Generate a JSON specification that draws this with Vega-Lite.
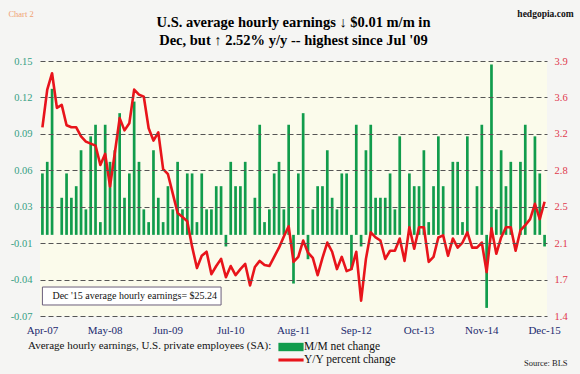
{
  "$schema": "https://vega.github.io/schema/vega-lite/v6.json",
  "width": 507,
  "height": 255,
  "autosize": {"type": "none"},
  "padding": {"left": 40, "top": 61, "right": 33, "bottom": 58},
  "background": "#f5f5f3",
  "config": {"view": {"stroke": null, "fill": "#fbfbeb"}, "font": "Liberation Serif"},
  "title": {
    "text": ["U.S. average hourly earnings ↓ $0.01 m/m in", "Dec, but ↑  2.52% y/y -- highest since Jul '09"],
    "font": "Liberation Serif", "fontSize": 14.5, "fontWeight": "bold", "color": "#000",
    "anchor": "middle", "offset": -40, "lineHeight": 18
  },
  "data": {"values": [
    {"m":"Apr-07","mm":0.053,"yy":3.25},{"m":"May-07","mm":0.063,"yy":3.62},{"m":"Jun-07","mm":0.126,"yy":3.78},
    {"m":"Jul-07","mm":0,"yy":3.44},{"m":"Aug-07","mm":0.032,"yy":3.47},{"m":"Sep-07","mm":0.053,"yy":3.27},
    {"m":"Oct-07","mm":0.032,"yy":3.25},{"m":"Nov-07","mm":0.042,"yy":3.25},{"m":"Dec-07","mm":0.073,"yy":3.16},
    {"m":"Jan-08","mm":0.022,"yy":3.11},{"m":"Feb-08","mm":0.085,"yy":3.09},{"m":"Mar-08","mm":0.095,"yy":3.07},
    {"m":"Apr-08","mm":0.011,"yy":2.88},{"m":"May-08","mm":0.095,"yy":2.99},{"m":"Jun-08","mm":0.063,"yy":2.67},
    {"m":"Jul-08","mm":0.073,"yy":3.0},{"m":"Aug-08","mm":0.105,"yy":3.34},{"m":"Sep-08","mm":0.032,"yy":3.22},
    {"m":"Oct-08","mm":0.053,"yy":3.29},{"m":"Nov-08","mm":0.115,"yy":3.62},{"m":"Dec-08","mm":0.063,"yy":3.57},
    {"m":"Jan-09","mm":0.022,"yy":3.55},{"m":"Feb-09","mm":0.011,"yy":3.24},{"m":"Mar-09","mm":0.073,"yy":3.12},
    {"m":"Apr-09","mm":0.032,"yy":3.2},{"m":"May-09","mm":0.011,"yy":2.84},{"m":"Jun-09","mm":0.042,"yy":2.79},
    {"m":"Jul-09","mm":0.022,"yy":2.6},{"m":"Aug-09","mm":0.063,"yy":2.41},{"m":"Sep-09","mm":0.022,"yy":2.37},
    {"m":"Oct-09","mm":0.053,"yy":2.33},{"m":"Nov-09","mm":0.053,"yy":2.08},{"m":"Dec-09","mm":0.011,"yy":1.87},
    {"m":"Jan-10","mm":0.053,"yy":1.99},{"m":"Feb-10","mm":0.022,"yy":2.03},{"m":"Mar-10","mm":0.022,"yy":1.81},
    {"m":"Apr-10","mm":0.042,"yy":1.89},{"m":"May-10","mm":0.042,"yy":1.96},{"m":"Jun-10","mm":-0.01,"yy":1.78},
    {"m":"Jul-10","mm":0.063,"yy":1.89},{"m":"Aug-10","mm":0.042,"yy":1.8},{"m":"Sep-10","mm":0.042,"yy":1.86},
    {"m":"Oct-10","mm":0.063,"yy":1.91},{"m":"Nov-10","mm":0,"yy":1.7},{"m":"Dec-10","mm":0.032,"yy":1.88},
    {"m":"Jan-11","mm":0.095,"yy":1.94},{"m":"Feb-11","mm":0.011,"yy":1.9},{"m":"Mar-11","mm":0.022,"yy":1.89},
    {"m":"Apr-11","mm":0.053,"yy":1.98},{"m":"May-11","mm":0.063,"yy":2.07},{"m":"Jun-11","mm":0.022,"yy":2.18},
    {"m":"Jul-11","mm":0.095,"yy":2.28},{"m":"Aug-11","mm":-0.042,"yy":1.93},{"m":"Sep-11","mm":0.053,"yy":1.98},
    {"m":"Oct-11","mm":0.105,"yy":2.14},{"m":"Nov-11","mm":-0.021,"yy":2.02},{"m":"Dec-11","mm":0.022,"yy":1.97},
    {"m":"Jan-12","mm":0.042,"yy":1.8},{"m":"Feb-12","mm":0.042,"yy":1.97},{"m":"Mar-12","mm":0.073,"yy":2.12},
    {"m":"Apr-12","mm":0.032,"yy":2.03},{"m":"May-12","mm":0.022,"yy":1.86},{"m":"Jun-12","mm":0.053,"yy":1.98},
    {"m":"Jul-12","mm":0.053,"yy":1.84},{"m":"Aug-12","mm":-0.03,"yy":1.86},{"m":"Sep-12","mm":0.095,"yy":2.03},
    {"m":"Oct-12","mm":-0.01,"yy":1.55},{"m":"Nov-12","mm":0.073,"yy":1.96},{"m":"Dec-12","mm":0.095,"yy":2.22},
    {"m":"Jan-13","mm":0.032,"yy":2.17},{"m":"Feb-13","mm":0.032,"yy":2.14},{"m":"Mar-13","mm":0.032,"yy":1.96},
    {"m":"Apr-13","mm":0.053,"yy":2.04},{"m":"May-13","mm":0.022,"yy":2.04},{"m":"Jun-13","mm":0.085,"yy":2.16},
    {"m":"Jul-13","mm":0,"yy":1.94},{"m":"Aug-13","mm":0.053,"yy":2.27},{"m":"Sep-13","mm":0.042,"yy":2.06},
    {"m":"Oct-13","mm":0.042,"yy":2.27},{"m":"Nov-13","mm":0.073,"yy":2.27},{"m":"Dec-13","mm":0.011,"yy":1.93},
    {"m":"Jan-14","mm":0.042,"yy":1.98},{"m":"Feb-14","mm":0.085,"yy":2.17},{"m":"Mar-14","mm":0.042,"yy":2.19},
    {"m":"Apr-14","mm":0,"yy":1.99},{"m":"May-14","mm":0.063,"yy":2.16},{"m":"Jun-14","mm":0.063,"yy":2.07},
    {"m":"Jul-14","mm":0.011,"yy":2.12},{"m":"Aug-14","mm":0.085,"yy":2.22},{"m":"Sep-14","mm":0,"yy":2.07},
    {"m":"Oct-14","mm":0.042,"yy":2.07},{"m":"Nov-14","mm":0.095,"yy":2.12},{"m":"Dec-14","mm":-0.063,"yy":1.83},
    {"m":"Jan-15","mm":0.147,"yy":2.26},{"m":"Feb-15","mm":0.022,"yy":2.01},{"m":"Mar-15","mm":0.073,"yy":2.17},
    {"m":"Apr-15","mm":0.042,"yy":2.27},{"m":"May-15","mm":0.063,"yy":2.27},{"m":"Jun-15","mm":0,"yy":2.04},
    {"m":"Jul-15","mm":0.063,"yy":2.24},{"m":"Aug-15","mm":0.095,"yy":2.29},{"m":"Sep-15","mm":0,"yy":2.35},
    {"m":"Oct-15","mm":0.085,"yy":2.5},{"m":"Nov-15","mm":0.053,"yy":2.35},{"m":"Dec-15","mm":-0.01,"yy":2.52}
  ]},
  "encoding": {
    "x": {
      "field": "m", "type": "ordinal",
      "scale": {"paddingInner": 0, "paddingOuter": 0, "domain": [
        "Apr-07","May-07","Jun-07","Jul-07","Aug-07","Sep-07","Oct-07","Nov-07","Dec-07",
        "Jan-08","Feb-08","Mar-08","Apr-08","May-08","Jun-08","Jul-08","Aug-08","Sep-08","Oct-08","Nov-08","Dec-08",
        "Jan-09","Feb-09","Mar-09","Apr-09","May-09","Jun-09","Jul-09","Aug-09","Sep-09","Oct-09","Nov-09","Dec-09",
        "Jan-10","Feb-10","Mar-10","Apr-10","May-10","Jun-10","Jul-10","Aug-10","Sep-10","Oct-10","Nov-10","Dec-10",
        "Jan-11","Feb-11","Mar-11","Apr-11","May-11","Jun-11","Jul-11","Aug-11","Sep-11","Oct-11","Nov-11","Dec-11",
        "Jan-12","Feb-12","Mar-12","Apr-12","May-12","Jun-12","Jul-12","Aug-12","Sep-12","Oct-12","Nov-12","Dec-12",
        "Jan-13","Feb-13","Mar-13","Apr-13","May-13","Jun-13","Jul-13","Aug-13","Sep-13","Oct-13","Nov-13","Dec-13",
        "Jan-14","Feb-14","Mar-14","Apr-14","May-14","Jun-14","Jul-14","Aug-14","Sep-14","Oct-14","Nov-14","Dec-14",
        "Jan-15","Feb-15","Mar-15","Apr-15","May-15","Jun-15","Jul-15","Aug-15","Sep-15","Oct-15","Nov-15","Dec-15"
      ]},
      "axis": {
        "values": ["Apr-07","May-08","Jun-09","Jul-10","Aug-11","Sep-12","Oct-13","Nov-14","Dec-15"],
        "title": null, "labelAngle": 0, "labelColor": "#1c2a6e", "labelFont": "Liberation Serif",
        "labelFontSize": 11, "labelPadding": 8, "ticks": false, "domain": false, "grid": false
      }
    }
  },
  "layer": [
    {
      "mark": {"type": "bar", "width": 2.7},
      "encoding": {
        "y": {
          "field": "mm", "type": "quantitative",
          "scale": {"domain": [-0.07, 0.15], "nice": false, "zero": false},
          "axis": {
            "orient": "left", "title": null,
            "values": [-0.07, -0.0385714, -0.0071429, 0.0242857, 0.0557143, 0.0871429, 0.1185714, 0.15],
            "labelExpr": "['-0.07','-0.04','-0.01','0.03','0.06','0.09','0.12','0.15'][round((datum.value + 0.07) / 0.22 * 7)]",
            "labelFont": "Liberation Serif", "labelFontSize": 10.5, "labelColor": "#36a083",
            "labelPadding": 8, "labelOverlap": false, "labelBound": false, "ticks": false, "domain": false, "grid": true,
            "gridDash": [5, 3], "gridColor": "#555555", "gridWidth": 1, "zindex": 1
          }
        },
        "y2": {"datum": 0},
        "color": {
          "datum": "M/M net change", "type": "nominal",
          "scale": {"domain": ["M/M net change", "Y/Y percent change"], "range": ["#119c4c", "#e8141b"]},
          "legend": {
            "orient": "none", "legendX": -12, "legendY": 279, "direction": "vertical",
            "title": "Average hourly earnings, U.S. private employees (SA):",
            "titleOrient": "left", "titleAnchor": "start", "titleBaseline": "top",
            "titleFont": "Liberation Serif", "titleFontSize": 11, "titleFontWeight": "normal",
            "titleColor": "#111111", "titleLimit": 400, "titlePadding": 12,
            "labelFont": "Liberation Serif", "labelFontSize": 11.5, "labelColor": "#111111",
            "labelOffset": 6, "symbolSize": 196, "rowPadding": 0, "padding": 0,
            "encode": {"symbols": {"update": {
              "shape": {"signal": "datum.value === 'M/M net change' ? 'M-1.8,-0.6L1.8,-0.6L1.8,0.6L-1.8,0.6Z' : 'M-1.8,-0.22L1.8,-0.22L1.8,0.22L-1.8,0.22Z'"},
              "fill": {"signal": "datum.value === 'M/M net change' ? '#119c4c' : '#e8141b'"},
              "stroke": {"value": "transparent"},
              "strokeWidth": {"value": 0},
              "opacity": {"value": 1},
              "fillOpacity": {"value": 1}
            }}}
          }
        }
      }
    },
    {
      "mark": {"type": "line", "strokeWidth": 2.6, "strokeJoin": "round"},
      "encoding": {
        "y": {
          "field": "yy", "type": "quantitative",
          "scale": {"domain": [1.4, 3.9], "nice": false, "zero": false},
          "axis": {
            "orient": "right", "title": null,
            "values": [1.4, 1.7571429, 2.1142857, 2.4714286, 2.8285714, 3.1857143, 3.5428571, 3.9],
            "labelExpr": "['1.4','1.7','2.1','2.5','2.8','3.2','3.6','3.9'][round((datum.value - 1.4) / 2.5 * 7)]",
            "labelFont": "Liberation Serif", "labelFontSize": 10.5, "labelColor": "#e0384c",
            "labelPadding": 7, "labelOverlap": false, "labelBound": false, "ticks": false, "domain": false, "grid": false
          }
        },
        "color": {"datum": "Y/Y percent change", "type": "nominal"}
      }
    },
    {
      "layer": [
        {
          "data": {"values": [{"t": "Dec '15 average hourly earnings= $25.24"}]},
          "mark": {"type": "rect", "fill": "#ffffff", "stroke": "#6b5f7a", "strokeWidth": 1},
          "encoding": {
            "x": {"datum": "Apr-07", "type": "ordinal"},
            "x2": {"datum": "May-10"},
            "y": {"datum": -0.045, "type": "quantitative", "scale": {"domain": [-0.07, 0.15], "nice": false, "zero": false}, "axis": null},
            "y2": {"datum": -0.0605}
          }
        },
        {
          "data": {"values": [{"t": "Dec '15 average hourly earnings= $25.24"}]},
          "mark": {"type": "text", "align": "left", "baseline": "middle", "dx": 10, "font": "Liberation Serif", "fontSize": 10, "color": "#111111"},
          "encoding": {
            "x": {"datum": "Apr-07", "type": "ordinal"},
            "y": {"datum": -0.0528, "type": "quantitative", "axis": null},
            "text": {"field": "t"}
          }
        },
        {
          "data": {"values": [{"t": "Chart 2"}]},
          "mark": {"type": "text", "align": "left", "baseline": "middle", "dx": -34, "font": "Liberation Serif", "fontSize": 8.5, "color": "#f0a070"},
          "encoding": {
            "x": {"datum": "Apr-07", "type": "ordinal"},
            "y": {"datum": 0.1906, "type": "quantitative", "axis": null},
            "text": {"field": "t"}
          }
        },
        {
          "data": {"values": [{"t": "hedgopia.com"}]},
          "mark": {"type": "text", "align": "right", "baseline": "middle", "dx": 29, "font": "Liberation Serif", "fontSize": 9.5, "fontWeight": "bold", "color": "#111111"},
          "encoding": {
            "x": {"datum": "Dec-15", "type": "ordinal"},
            "y": {"datum": 0.1906, "type": "quantitative", "axis": null},
            "text": {"field": "t"}
          }
        },
        {
          "data": {"values": [{"t": "Source: BLS"}]},
          "mark": {"type": "text", "align": "right", "baseline": "middle", "dx": 23, "font": "Liberation Serif", "fontSize": 8.5, "color": "#222222"},
          "encoding": {
            "x": {"datum": "Dec-15", "type": "ordinal"},
            "y": {"datum": -0.1106, "type": "quantitative", "axis": null},
            "text": {"field": "t"}
          }
        }
      ]
    }
  ],
  "resolve": {"scale": {"y": "independent"}}
}
